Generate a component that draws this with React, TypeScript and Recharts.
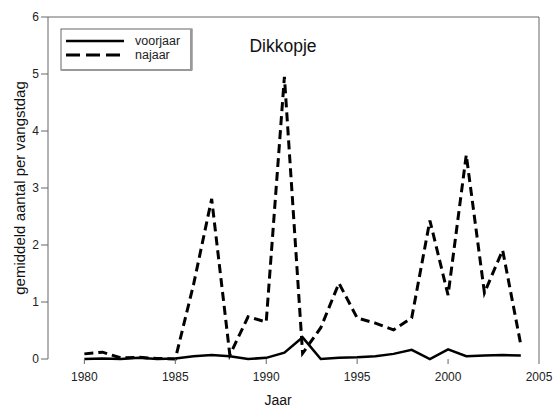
import React from "react";
import { LineChart, Line, XAxis, YAxis, ReferenceLine, Customized } from "recharts";

const years = [1980, 1981, 1982, 1983, 1984, 1985, 1986, 1987, 1988, 1989, 1990, 1991, 1992, 1993, 1994, 1995, 1996, 1997, 1998, 1999, 2000, 2001, 2002, 2003, 2004];
const voorjaar = [0.0, 0.01, 0.0, 0.02, 0.0, 0.01, 0.05, 0.07, 0.05, 0.0, 0.02, 0.11, 0.38, 0.0, 0.02, 0.03, 0.05, 0.09, 0.16, 0.0, 0.17, 0.05, 0.06, 0.07, 0.06];
const najaar = [0.09, 0.12, 0.02, 0.03, 0.01, 0.0, 1.3, 2.81, 0.07, 0.74, 0.65, 4.95, 0.1, 0.55, 1.33, 0.72, 0.63, 0.51, 0.72, 2.43, 1.12, 3.58, 1.16, 1.91, 0.25];
const xTicks = [1980, 1985, 1990, 1995, 2000, 2005];
const yTicks = [0, 1, 2, 3, 4, 5, 6];
const title = "Dikkopje";
const xLabel = "Jaar";
const yLabel = "gemiddeld aantal per vangstdag";
const seriesNames = ["voorjaar", "najaar"];

const data = years.map((y, i) => ({ year: y, voorjaar: voorjaar[i], najaar: najaar[i] }));

const FONT = "'Liberation Sans', Arial, sans-serif";

const Overlay = () => (
  <g>
    <text x={283} y={52} textAnchor="middle" fontFamily={FONT} fontSize={17.5} fill="#111">{title}</text>
    <rect x={61} y={29} width={131} height={41} fill="#fff" stroke="#666" strokeWidth={1} />
    <line x1={191} y1={29} x2={191} y2={70} stroke="#999" strokeWidth={2} />
    <line x1={61} y1={70} x2={192} y2={70} stroke="#999" strokeWidth={2} />
    <line x1={66} y1={41} x2={124} y2={41} stroke="#000" strokeWidth={2.5} />
    <line x1={66} y1={55} x2={124} y2={55} stroke="#000" strokeWidth={3} strokeDasharray="14 6" />
    <text x={135} y={45} fontFamily={FONT} fontSize={12.5} fill="#222">{seriesNames[0]}</text>
    <text x={135} y={59} fontFamily={FONT} fontSize={12.5} fill="#222">{seriesNames[1]}</text>
    <text x={278} y={405} textAnchor="middle" fontFamily={FONT} fontSize={14} fill="#111">{xLabel}</text>
    <text x={25} y={188} textAnchor="middle" fontFamily={FONT} fontSize={15} fill="#111" transform="rotate(-90 25 188)">{yLabel}</text>
  </g>
);

export default function App() {
  return (
    <div style={{ position: "absolute", left: 0, top: 0, width: 553, height: 407, background: "#fff" }}>
      <LineChart width={553} height={407} data={data} margin={{ top: 17, right: 14, bottom: 18, left: 0 }}>
        <XAxis
          dataKey="year"
          type="number"
          domain={[1978, 2005]}
          ticks={xTicks}
          axisLine={false}
          tickLine={{ stroke: "#666" }}
          tickSize={5}
          height={30}
          tick={{ fontFamily: FONT, fontSize: 12, fill: "#222", dy: 6 }}
          allowDataOverflow
        />
        <YAxis
          domain={[0, 6]}
          ticks={yTicks}
          width={48}
          axisLine={{ stroke: "#666" }}
          tickLine={{ stroke: "#666" }}
          tickSize={7}
          tick={{ fontFamily: FONT, fontSize: 12, fill: "#222" }}
        />
        <ReferenceLine y={6} stroke="#666" />
        <ReferenceLine x={2005} stroke="#666" />
        <Line dataKey="najaar" stroke="#000" strokeWidth={3} strokeDasharray="9 5" dot={false} isAnimationActive={false} type="linear" />
        <Line dataKey="voorjaar" stroke="#000" strokeWidth={2.5} dot={false} isAnimationActive={false} type="linear" />
        <Customized component={Overlay} />
      </LineChart>
    </div>
  );
}
